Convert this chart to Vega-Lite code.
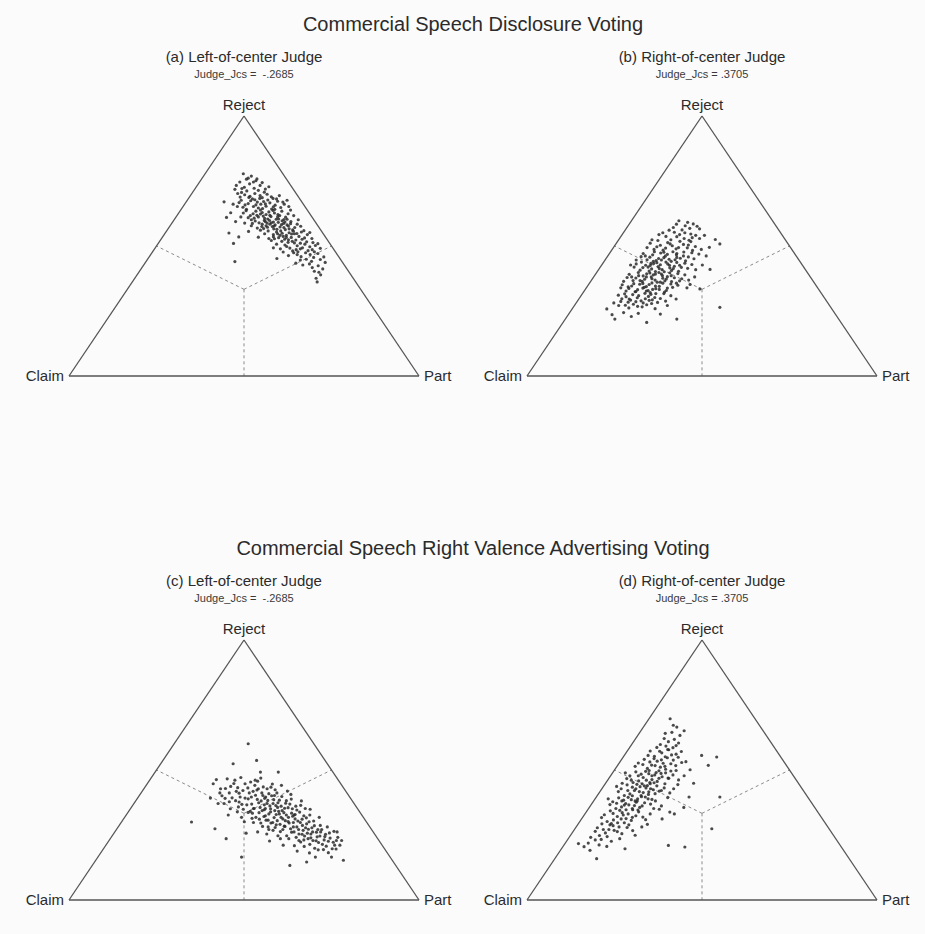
{
"$schema":"https://vega.github.io/schema/vega-lite/v6.json",
"background":"#fbfbfb",
"padding":{"left":23.5,"top":15,"right":2,"bottom":24},
"config":{"view":{"stroke":null},"font":"Liberation Sans","title":{"fontWeight":"normal","color":"#2b2b2b","subtitleColor":"#3a3a3a","subtitleFont":"Liberation Sans"}},
"datasets":{
"edges":[{"x":0,"y":0,"x2":1,"y2":0},{"x":0,"y":0,"x2":0.5,"y2":1},{"x":1,"y":0,"x2":0.5,"y2":1}],
"splits":[{"x":0.5,"y":0.3333,"x2":0.5,"y2":0},{"x":0.5,"y":0.3333,"x2":0.25,"y2":0.5},{"x":0.5,"y":0.3333,"x2":0.75,"y2":0.5}],
"labels":[{"v":"Reject","x":0.5,"y":1},{"v":"Claim","x":0,"y":0},{"v":"Part","x":1,"y":0}],
"a":[{"x":0.498,"y":0.778},{"x":0.521,"y":0.769},{"x":0.507,"y":0.757},{"x":0.534,"y":0.751},{"x":0.488,"y":0.746},{"x":0.516,"y":0.739},{"x":0.546,"y":0.733},{"x":0.501,"y":0.726},{"x":0.478,"y":0.733},{"x":0.529,"y":0.722},{"x":0.512,"y":0.761},
{"x":0.541,"y":0.714},{"x":0.493,"y":0.706},{"x":0.566,"y":0.699},{"x":0.517,"y":0.691},{"x":0.474,"y":0.718},{"x":0.552,"y":0.686},{"x":0.508,"y":0.712},{"x":0.583,"y":0.683},{"x":0.531,"y":0.702},{"x":0.489,"y":0.688},{"x":0.561,"y":0.719},{"x":0.524,"y":0.681},{"x":0.546,"y":0.694},{"x":0.502,"y":0.697},
{"x":0.556,"y":0.671},{"x":0.512,"y":0.663},{"x":0.589,"y":0.657},{"x":0.531,"y":0.678},{"x":0.497,"y":0.649},{"x":0.574,"y":0.666},{"x":0.541,"y":0.646},{"x":0.605,"y":0.648},{"x":0.519,"y":0.674},{"x":0.563,"y":0.653},{"x":0.486,"y":0.667},{"x":0.548,"y":0.661},{"x":0.596,"y":0.672},{"x":0.527,"y":0.652},{"x":0.579,"y":0.642},{"x":0.507,"y":0.641},{"x":0.538,"y":0.669},{"x":0.568,"y":0.677},{"x":0.553,"y":0.644},{"x":0.615,"y":0.661},{"x":0.492,"y":0.676},{"x":0.443,"y":0.67},{"x":0.584,"y":0.651},
{"x":0.571,"y":0.631},{"x":0.526,"y":0.624},{"x":0.602,"y":0.617},{"x":0.547,"y":0.638},{"x":0.512,"y":0.609},{"x":0.587,"y":0.627},{"x":0.559,"y":0.606},{"x":0.619,"y":0.611},{"x":0.534,"y":0.634},{"x":0.577,"y":0.613},{"x":0.498,"y":0.627},{"x":0.563,"y":0.621},{"x":0.608,"y":0.634},{"x":0.541,"y":0.612},{"x":0.592,"y":0.603},{"x":0.521,"y":0.601},{"x":0.552,"y":0.629},{"x":0.583,"y":0.637},{"x":0.568,"y":0.604},{"x":0.626,"y":0.624},{"x":0.506,"y":0.636},{"x":0.537,"y":0.618},{"x":0.597,"y":0.621},{"x":0.45,"y":0.61},{"x":0.462,"y":0.628},{"x":0.614,"y":0.602},{"x":0.555,"y":0.615},
{"x":0.598,"y":0.591},{"x":0.552,"y":0.584},{"x":0.627,"y":0.577},{"x":0.573,"y":0.598},{"x":0.538,"y":0.569},{"x":0.613,"y":0.587},{"x":0.585,"y":0.566},{"x":0.645,"y":0.571},{"x":0.561,"y":0.594},{"x":0.603,"y":0.573},{"x":0.524,"y":0.587},{"x":0.589,"y":0.581},{"x":0.634,"y":0.594},{"x":0.567,"y":0.572},{"x":0.618,"y":0.563},{"x":0.547,"y":0.561},{"x":0.578,"y":0.589},{"x":0.609,"y":0.597},{"x":0.594,"y":0.564},{"x":0.652,"y":0.584},{"x":0.532,"y":0.596},{"x":0.563,"y":0.578},{"x":0.623,"y":0.581},{"x":0.639,"y":0.562},{"x":0.581,"y":0.575},{"x":0.556,"y":0.567},{"x":0.607,"y":0.582},{"x":0.574,"y":0.584},
{"x":0.629,"y":0.551},{"x":0.584,"y":0.544},{"x":0.657,"y":0.537},{"x":0.605,"y":0.558},{"x":0.571,"y":0.529},{"x":0.644,"y":0.547},{"x":0.616,"y":0.526},{"x":0.673,"y":0.531},{"x":0.593,"y":0.554},{"x":0.635,"y":0.533},{"x":0.559,"y":0.547},{"x":0.621,"y":0.541},{"x":0.664,"y":0.554},{"x":0.599,"y":0.532},{"x":0.648,"y":0.523},{"x":0.578,"y":0.521},{"x":0.609,"y":0.549},{"x":0.641,"y":0.557},{"x":0.627,"y":0.524},{"x":0.681,"y":0.544},{"x":0.457,"y":0.55},{"x":0.485,"y":0.535},{"x":0.612,"y":0.537},{"x":0.587,"y":0.528},
{"x":0.661,"y":0.511},{"x":0.617,"y":0.504},{"x":0.688,"y":0.497},{"x":0.638,"y":0.518},{"x":0.604,"y":0.489},{"x":0.674,"y":0.507},{"x":0.649,"y":0.486},{"x":0.697,"y":0.513},{"x":0.626,"y":0.514},{"x":0.667,"y":0.493},{"x":0.593,"y":0.507},{"x":0.652,"y":0.501},{"x":0.683,"y":0.482},{"x":0.631,"y":0.492},{"x":0.47,"y":0.51},{"x":0.704,"y":0.502},
{"x":0.642,"y":0.474},{"x":0.689,"y":0.467},{"x":0.663,"y":0.459},{"x":0.711,"y":0.471},{"x":0.627,"y":0.463},{"x":0.678,"y":0.449},{"x":0.654,"y":0.478},{"x":0.699,"y":0.456},{"x":0.474,"y":0.44},{"x":0.594,"y":0.452},{"x":0.718,"y":0.448},
{"x":0.687,"y":0.431},{"x":0.712,"y":0.424},{"x":0.648,"y":0.434},{"x":0.725,"y":0.412},{"x":0.701,"y":0.403},{"x":0.719,"y":0.389},{"x":0.706,"y":0.376},{"x":0.709,"y":0.362},{"x":0.668,"y":0.427},
{"x":0.537,"y":0.758},{"x":0.552,"y":0.744},{"x":0.494,"y":0.721},{"x":0.571,"y":0.728},{"x":0.482,"y":0.702},{"x":0.558,"y":0.707},{"x":0.527,"y":0.746},
{"x":0.601,"y":0.694},{"x":0.623,"y":0.676},{"x":0.578,"y":0.689},{"x":0.469,"y":0.661},{"x":0.514,"y":0.687},{"x":0.593,"y":0.681},{"x":0.628,"y":0.652},{"x":0.545,"y":0.683},{"x":0.503,"y":0.658},{"x":0.561,"y":0.662},{"x":0.534,"y":0.658},{"x":0.611,"y":0.669},{"x":0.481,"y":0.652},
{"x":0.633,"y":0.638},{"x":0.642,"y":0.617},{"x":0.596,"y":0.612},{"x":0.518,"y":0.617},{"x":0.547,"y":0.623},{"x":0.574,"y":0.618},{"x":0.588,"y":0.641},{"x":0.529,"y":0.607},{"x":0.623,"y":0.603},{"x":0.491,"y":0.612},{"x":0.558,"y":0.598},{"x":0.584,"y":0.592},{"x":0.617,"y":0.592},{"x":0.543,"y":0.589},{"x":0.655,"y":0.601},{"x":0.502,"y":0.588},{"x":0.566,"y":0.588},{"x":0.599,"y":0.604},{"x":0.633,"y":0.586},{"x":0.521,"y":0.578},{"x":0.476,"y":0.594},
{"x":0.662,"y":0.576},{"x":0.671,"y":0.559},{"x":0.614,"y":0.571},{"x":0.586,"y":0.577},{"x":0.551,"y":0.575},{"x":0.629,"y":0.566},{"x":0.596,"y":0.547},{"x":0.651,"y":0.548},{"x":0.569,"y":0.558},{"x":0.688,"y":0.552},{"x":0.621,"y":0.533},{"x":0.541,"y":0.534},{"x":0.603,"y":0.541},{"x":0.666,"y":0.526},{"x":0.636,"y":0.546},{"x":0.513,"y":0.556},{"x":0.584,"y":0.536},{"x":0.694,"y":0.529},
{"x":0.608,"y":0.518},{"x":0.644,"y":0.512},{"x":0.679,"y":0.516},{"x":0.711,"y":0.509},{"x":0.622,"y":0.498},{"x":0.661,"y":0.489},{"x":0.695,"y":0.486},{"x":0.639,"y":0.481},{"x":0.676,"y":0.474},{"x":0.612,"y":0.477},{"x":0.718,"y":0.491},{"x":0.584,"y":0.493},{"x":0.652,"y":0.467},{"x":0.701,"y":0.478},
{"x":0.728,"y":0.458},{"x":0.732,"y":0.437},{"x":0.693,"y":0.441},{"x":0.661,"y":0.446},{"x":0.714,"y":0.399},{"x":0.695,"y":0.417}],
"b":[{"x":0.434,"y":0.597},{"x":0.475,"y":0.585},{"x":0.452,"y":0.578},{"x":0.418,"y":0.571},{"x":0.493,"y":0.566},{"x":0.443,"y":0.562},
{"x":0.421,"y":0.553},{"x":0.468,"y":0.546},{"x":0.397,"y":0.537},{"x":0.449,"y":0.529},{"x":0.482,"y":0.541},{"x":0.411,"y":0.524},{"x":0.436,"y":0.544},{"x":0.463,"y":0.522},{"x":0.507,"y":0.541},{"x":0.538,"y":0.525},{"x":0.388,"y":0.551},
{"x":0.402,"y":0.513},{"x":0.447,"y":0.506},{"x":0.371,"y":0.497},{"x":0.426,"y":0.489},{"x":0.468,"y":0.517},{"x":0.389,"y":0.484},{"x":0.458,"y":0.493},{"x":0.415,"y":0.501},{"x":0.352,"y":0.511},{"x":0.481,"y":0.498},{"x":0.437,"y":0.518},{"x":0.396,"y":0.492},{"x":0.551,"y":0.508},{"x":0.473,"y":0.483},{"x":0.363,"y":0.487},
{"x":0.382,"y":0.473},{"x":0.427,"y":0.466},{"x":0.351,"y":0.457},{"x":0.406,"y":0.449},{"x":0.448,"y":0.477},{"x":0.369,"y":0.444},{"x":0.438,"y":0.453},{"x":0.395,"y":0.461},{"x":0.332,"y":0.471},{"x":0.461,"y":0.458},{"x":0.417,"y":0.478},{"x":0.376,"y":0.452},{"x":0.491,"y":0.469},{"x":0.453,"y":0.443},{"x":0.343,"y":0.447},{"x":0.412,"y":0.441},{"x":0.471,"y":0.474},{"x":0.359,"y":0.466},{"x":0.428,"y":0.456},{"x":0.512,"y":0.462},{"x":0.391,"y":0.476},{"x":0.326,"y":0.459},
{"x":0.362,"y":0.433},{"x":0.407,"y":0.426},{"x":0.331,"y":0.417},{"x":0.386,"y":0.409},{"x":0.428,"y":0.437},{"x":0.349,"y":0.404},{"x":0.418,"y":0.413},{"x":0.375,"y":0.421},{"x":0.312,"y":0.431},{"x":0.441,"y":0.418},{"x":0.397,"y":0.438},{"x":0.356,"y":0.412},{"x":0.471,"y":0.429},{"x":0.433,"y":0.403},{"x":0.323,"y":0.407},{"x":0.392,"y":0.401},{"x":0.451,"y":0.434},{"x":0.339,"y":0.426},{"x":0.408,"y":0.416},{"x":0.482,"y":0.409},{"x":0.371,"y":0.436},{"x":0.306,"y":0.419},{"x":0.523,"y":0.41},{"x":0.381,"y":0.428},{"x":0.421,"y":0.422},{"x":0.352,"y":0.425},
{"x":0.342,"y":0.393},{"x":0.387,"y":0.386},{"x":0.311,"y":0.377},{"x":0.366,"y":0.369},{"x":0.408,"y":0.397},{"x":0.329,"y":0.364},{"x":0.398,"y":0.373},{"x":0.355,"y":0.381},{"x":0.292,"y":0.391},{"x":0.421,"y":0.378},{"x":0.377,"y":0.398},{"x":0.336,"y":0.372},{"x":0.451,"y":0.389},{"x":0.413,"y":0.363},{"x":0.303,"y":0.367},{"x":0.372,"y":0.361},{"x":0.431,"y":0.394},{"x":0.319,"y":0.386},{"x":0.388,"y":0.376},{"x":0.462,"y":0.369},{"x":0.351,"y":0.396},{"x":0.286,"y":0.379},{"x":0.361,"y":0.389},{"x":0.401,"y":0.382},{"x":0.332,"y":0.385},{"x":0.442,"y":0.374},
{"x":0.322,"y":0.353},{"x":0.367,"y":0.346},{"x":0.291,"y":0.337},{"x":0.346,"y":0.329},{"x":0.388,"y":0.357},{"x":0.309,"y":0.324},{"x":0.378,"y":0.333},{"x":0.335,"y":0.341},{"x":0.272,"y":0.351},{"x":0.401,"y":0.338},{"x":0.357,"y":0.358},{"x":0.316,"y":0.332},{"x":0.431,"y":0.349},{"x":0.393,"y":0.323},{"x":0.283,"y":0.327},{"x":0.352,"y":0.321},{"x":0.411,"y":0.354},{"x":0.299,"y":0.346},{"x":0.368,"y":0.336},{"x":0.494,"y":0.335},{"x":0.331,"y":0.356},{"x":0.268,"y":0.339},{"x":0.466,"y":0.352},{"x":0.341,"y":0.344},
{"x":0.302,"y":0.313},{"x":0.347,"y":0.306},{"x":0.271,"y":0.297},{"x":0.326,"y":0.289},{"x":0.368,"y":0.317},{"x":0.289,"y":0.284},{"x":0.358,"y":0.293},{"x":0.315,"y":0.301},{"x":0.261,"y":0.311},{"x":0.381,"y":0.298},{"x":0.337,"y":0.318},{"x":0.296,"y":0.292},{"x":0.411,"y":0.309},{"x":0.373,"y":0.283},{"x":0.283,"y":0.305},{"x":0.332,"y":0.281},
{"x":0.228,"y":0.258},{"x":0.251,"y":0.219},{"x":0.262,"y":0.271},{"x":0.291,"y":0.262},{"x":0.316,"y":0.268},{"x":0.342,"y":0.274},{"x":0.366,"y":0.259},{"x":0.276,"y":0.244},{"x":0.318,"y":0.241},{"x":0.342,"y":0.206},{"x":0.428,"y":0.219},{"x":0.298,"y":0.229},{"x":0.551,"y":0.264},{"x":0.381,"y":0.238},{"x":0.243,"y":0.236},{"x":0.401,"y":0.271},
{"x":0.459,"y":0.591},{"x":0.427,"y":0.584},{"x":0.486,"y":0.576},{"x":0.406,"y":0.561},{"x":0.465,"y":0.568},
{"x":0.377,"y":0.544},{"x":0.451,"y":0.551},{"x":0.493,"y":0.529},{"x":0.374,"y":0.521},{"x":0.428,"y":0.536},{"x":0.409,"y":0.508},{"x":0.461,"y":0.504},{"x":0.381,"y":0.503},{"x":0.343,"y":0.494},{"x":0.498,"y":0.487},{"x":0.433,"y":0.494},{"x":0.472,"y":0.532},{"x":0.521,"y":0.495},{"x":0.357,"y":0.524},
{"x":0.338,"y":0.462},{"x":0.364,"y":0.478},{"x":0.401,"y":0.468},{"x":0.423,"y":0.447},{"x":0.447,"y":0.462},{"x":0.384,"y":0.446},{"x":0.312,"y":0.446},{"x":0.477,"y":0.451},{"x":0.361,"y":0.441},{"x":0.402,"y":0.431},{"x":0.436,"y":0.426},{"x":0.327,"y":0.438},{"x":0.459,"y":0.414},{"x":0.378,"y":0.413},{"x":0.346,"y":0.419},{"x":0.413,"y":0.406},{"x":0.501,"y":0.427},{"x":0.296,"y":0.427},{"x":0.367,"y":0.402},{"x":0.428,"y":0.471},{"x":0.391,"y":0.455},{"x":0.354,"y":0.433},
{"x":0.318,"y":0.398},{"x":0.357,"y":0.374},{"x":0.384,"y":0.392},{"x":0.412,"y":0.386},{"x":0.436,"y":0.366},{"x":0.299,"y":0.381},{"x":0.341,"y":0.381},{"x":0.367,"y":0.392},{"x":0.394,"y":0.366},{"x":0.323,"y":0.367},{"x":0.276,"y":0.364},{"x":0.427,"y":0.357},{"x":0.349,"y":0.352},{"x":0.378,"y":0.345},{"x":0.305,"y":0.355},{"x":0.416,"y":0.341},{"x":0.331,"y":0.338},{"x":0.359,"y":0.333},{"x":0.289,"y":0.343},{"x":0.398,"y":0.329},{"x":0.457,"y":0.339},{"x":0.311,"y":0.325},{"x":0.341,"y":0.327},{"x":0.381,"y":0.361},{"x":0.479,"y":0.381},
{"x":0.279,"y":0.316},{"x":0.319,"y":0.309},{"x":0.354,"y":0.314},{"x":0.391,"y":0.317},{"x":0.292,"y":0.296},{"x":0.338,"y":0.297},{"x":0.365,"y":0.302},{"x":0.268,"y":0.287},{"x":0.311,"y":0.286},{"x":0.349,"y":0.291},{"x":0.396,"y":0.288},{"x":0.281,"y":0.272},{"x":0.329,"y":0.266},{"x":0.356,"y":0.279},{"x":0.248,"y":0.281},{"x":0.426,"y":0.296},{"x":0.304,"y":0.276}],
"c":[{"x":0.412,"y":0.447},{"x":0.437,"y":0.401},{"x":0.421,"y":0.463},{"x":0.404,"y":0.392},{"x":0.433,"y":0.428},{"x":0.426,"y":0.371},{"x":0.35,"y":0.3},{"x":0.417,"y":0.274},
{"x":0.458,"y":0.412},{"x":0.443,"y":0.371},{"x":0.471,"y":0.448},{"x":0.452,"y":0.466},{"x":0.476,"y":0.382},{"x":0.461,"y":0.351},{"x":0.447,"y":0.429},{"x":0.469,"y":0.524},{"x":0.478,"y":0.418},{"x":0.449,"y":0.236},{"x":0.466,"y":0.393},{"x":0.455,"y":0.327},
{"x":0.497,"y":0.421},{"x":0.484,"y":0.358},{"x":0.512,"y":0.389},{"x":0.503,"y":0.447},{"x":0.489,"y":0.396},{"x":0.518,"y":0.341},{"x":0.493,"y":0.318},{"x":0.508,"y":0.366},{"x":0.482,"y":0.432},{"x":0.515,"y":0.412},{"x":0.501,"y":0.301},{"x":0.491,"y":0.471},{"x":0.512,"y":0.601},{"x":0.493,"y":0.165},{"x":0.506,"y":0.257},{"x":0.486,"y":0.377},{"x":0.519,"y":0.454},{"x":0.498,"y":0.349},
{"x":0.538,"y":0.387},{"x":0.524,"y":0.334},{"x":0.551,"y":0.412},{"x":0.531,"y":0.441},{"x":0.546,"y":0.356},{"x":0.527,"y":0.298},{"x":0.557,"y":0.321},{"x":0.542,"y":0.374},{"x":0.533,"y":0.403},{"x":0.553,"y":0.283},{"x":0.522,"y":0.369},{"x":0.548,"y":0.469},{"x":0.536,"y":0.537},{"x":0.559,"y":0.391},{"x":0.529,"y":0.352},{"x":0.544,"y":0.311},{"x":0.555,"y":0.435},{"x":0.539,"y":0.262},{"x":0.526,"y":0.418},{"x":0.552,"y":0.344},{"x":0.541,"y":0.428},{"x":0.558,"y":0.366},{"x":0.534,"y":0.318},{"x":0.547,"y":0.492},
{"x":0.574,"y":0.362},{"x":0.563,"y":0.307},{"x":0.588,"y":0.344},{"x":0.579,"y":0.401},{"x":0.566,"y":0.428},{"x":0.592,"y":0.289},{"x":0.571,"y":0.331},{"x":0.597,"y":0.374},{"x":0.583,"y":0.268},{"x":0.561,"y":0.352},{"x":0.594,"y":0.412},{"x":0.577,"y":0.296},{"x":0.568,"y":0.383},{"x":0.586,"y":0.317},{"x":0.599,"y":0.341},{"x":0.565,"y":0.254},{"x":0.581,"y":0.446},{"x":0.598,"y":0.492},{"x":0.573,"y":0.227},{"x":0.591,"y":0.363},{"x":0.562,"y":0.396},{"x":0.585,"y":0.386},{"x":0.576,"y":0.339},{"x":0.595,"y":0.305},{"x":0.569,"y":0.281},{"x":0.589,"y":0.424},
{"x":0.614,"y":0.336},{"x":0.603,"y":0.291},{"x":0.627,"y":0.318},{"x":0.619,"y":0.372},{"x":0.608,"y":0.398},{"x":0.633,"y":0.274},{"x":0.611,"y":0.312},{"x":0.638,"y":0.351},{"x":0.622,"y":0.247},{"x":0.601,"y":0.331},{"x":0.635,"y":0.388},{"x":0.617,"y":0.283},{"x":0.606,"y":0.361},{"x":0.629,"y":0.296},{"x":0.639,"y":0.322},{"x":0.604,"y":0.236},{"x":0.624,"y":0.419},{"x":0.631,"y":0.133},{"x":0.612,"y":0.211},{"x":0.636,"y":0.261},{"x":0.609,"y":0.344},{"x":0.626,"y":0.355},{"x":0.618,"y":0.305},
{"x":0.654,"y":0.304},{"x":0.643,"y":0.262},{"x":0.667,"y":0.287},{"x":0.659,"y":0.338},{"x":0.648,"y":0.361},{"x":0.673,"y":0.246},{"x":0.651,"y":0.281},{"x":0.678,"y":0.316},{"x":0.662,"y":0.223},{"x":0.641,"y":0.298},{"x":0.675,"y":0.352},{"x":0.657,"y":0.254},{"x":0.646,"y":0.329},{"x":0.669,"y":0.268},{"x":0.679,"y":0.293},{"x":0.644,"y":0.209},{"x":0.664,"y":0.381},{"x":0.679,"y":0.146},{"x":0.652,"y":0.188},{"x":0.671,"y":0.231},{"x":0.649,"y":0.241},{"x":0.666,"y":0.311},
{"x":0.694,"y":0.278},{"x":0.683,"y":0.236},{"x":0.707,"y":0.261},{"x":0.699,"y":0.304},{"x":0.688,"y":0.327},{"x":0.713,"y":0.221},{"x":0.691,"y":0.254},{"x":0.718,"y":0.287},{"x":0.702,"y":0.199},{"x":0.684,"y":0.272},{"x":0.715,"y":0.318},{"x":0.697,"y":0.229},{"x":0.709,"y":0.243},{"x":0.687,"y":0.181},{"x":0.704,"y":0.165},{"x":0.719,"y":0.262},
{"x":0.733,"y":0.253},{"x":0.724,"y":0.214},{"x":0.746,"y":0.238},{"x":0.738,"y":0.281},{"x":0.752,"y":0.197},{"x":0.729,"y":0.231},{"x":0.757,"y":0.264},{"x":0.741,"y":0.182},{"x":0.75,"y":0.165},{"x":0.735,"y":0.207},{"x":0.755,"y":0.222},
{"x":0.768,"y":0.241},{"x":0.779,"y":0.229},{"x":0.784,"y":0.153},{"x":0.763,"y":0.196},{"x":0.774,"y":0.211},{"x":0.766,"y":0.262},
{"x":0.431,"y":0.412},{"x":0.446,"y":0.391},{"x":0.462,"y":0.437},{"x":0.474,"y":0.461},{"x":0.486,"y":0.411},{"x":0.494,"y":0.368},{"x":0.503,"y":0.392},{"x":0.511,"y":0.431},{"x":0.521,"y":0.396},{"x":0.527,"y":0.352},{"x":0.532,"y":0.461},{"x":0.537,"y":0.423},{"x":0.543,"y":0.336},{"x":0.549,"y":0.381},{"x":0.554,"y":0.402},{"x":0.561,"y":0.324},{"x":0.566,"y":0.371},{"x":0.571,"y":0.409},{"x":0.576,"y":0.351},{"x":0.582,"y":0.298},{"x":0.587,"y":0.402},{"x":0.592,"y":0.329},{"x":0.596,"y":0.356},{"x":0.601,"y":0.384},{"x":0.606,"y":0.318},{"x":0.611,"y":0.271},{"x":0.616,"y":0.353},{"x":0.621,"y":0.327},{"x":0.626,"y":0.302},{"x":0.631,"y":0.369},{"x":0.636,"y":0.334},{"x":0.641,"y":0.281},{"x":0.646,"y":0.312},{"x":0.651,"y":0.346},{"x":0.656,"y":0.271},{"x":0.661,"y":0.298},{"x":0.666,"y":0.253},{"x":0.671,"y":0.324},{"x":0.676,"y":0.278},{"x":0.681,"y":0.257},{"x":0.686,"y":0.301},{"x":0.691,"y":0.239},{"x":0.696,"y":0.262},{"x":0.701,"y":0.286},{"x":0.706,"y":0.228},{"x":0.711,"y":0.271},{"x":0.717,"y":0.246},{"x":0.722,"y":0.271},{"x":0.727,"y":0.194},{"x":0.731,"y":0.244},{"x":0.741,"y":0.226},{"x":0.744,"y":0.258},{"x":0.759,"y":0.211},{"x":0.764,"y":0.229},{"x":0.548,"y":0.296},{"x":0.569,"y":0.307},{"x":0.589,"y":0.279},{"x":0.604,"y":0.263},{"x":0.628,"y":0.236},{"x":0.657,"y":0.229},{"x":0.688,"y":0.214},{"x":0.523,"y":0.314},{"x":0.512,"y":0.337},{"x":0.539,"y":0.457},{"x":0.577,"y":0.434},{"x":0.607,"y":0.441},{"x":0.634,"y":0.406},{"x":0.662,"y":0.364},{"x":0.689,"y":0.349},{"x":0.481,"y":0.339},{"x":0.458,"y":0.378},{"x":0.571,"y":0.271},{"x":0.597,"y":0.247},{"x":0.615,"y":0.284},{"x":0.643,"y":0.327},{"x":0.583,"y":0.371},{"x":0.558,"y":0.347},{"x":0.621,"y":0.382},{"x":0.672,"y":0.206},{"x":0.712,"y":0.193}],
"d":[{"x":0.409,"y":0.697},{"x":0.428,"y":0.665},{"x":0.437,"y":0.633},{"x":0.418,"y":0.672},{"x":0.395,"y":0.641},{"x":0.421,"y":0.618},{"x":0.449,"y":0.651},{"x":0.404,"y":0.609},{"x":0.433,"y":0.604},
{"x":0.371,"y":0.587},{"x":0.402,"y":0.579},{"x":0.426,"y":0.594},{"x":0.385,"y":0.566},{"x":0.352,"y":0.573},{"x":0.413,"y":0.558},{"x":0.441,"y":0.571},{"x":0.364,"y":0.553},{"x":0.397,"y":0.592},{"x":0.499,"y":0.556},{"x":0.542,"y":0.55},
{"x":0.335,"y":0.541},{"x":0.372,"y":0.534},{"x":0.401,"y":0.547},{"x":0.318,"y":0.527},{"x":0.356,"y":0.519},{"x":0.389,"y":0.526},{"x":0.418,"y":0.538},{"x":0.344,"y":0.506},{"x":0.381,"y":0.511},{"x":0.309,"y":0.514},{"x":0.425,"y":0.517},{"x":0.363,"y":0.544},{"x":0.396,"y":0.503},{"x":0.518,"y":0.518},{"x":0.442,"y":0.529},{"x":0.351,"y":0.531},
{"x":0.311,"y":0.493},{"x":0.348,"y":0.486},{"x":0.377,"y":0.497},{"x":0.294,"y":0.478},{"x":0.332,"y":0.471},{"x":0.365,"y":0.481},{"x":0.396,"y":0.489},{"x":0.319,"y":0.458},{"x":0.357,"y":0.463},{"x":0.285,"y":0.467},{"x":0.403,"y":0.469},{"x":0.339,"y":0.495},{"x":0.372,"y":0.456},{"x":0.417,"y":0.481},{"x":0.303,"y":0.452},{"x":0.386,"y":0.474},{"x":0.326,"y":0.484},{"x":0.351,"y":0.452},{"x":0.433,"y":0.462},{"x":0.281,"y":0.489},{"x":0.369,"y":0.49},
{"x":0.286,"y":0.443},{"x":0.323,"y":0.436},{"x":0.352,"y":0.447},{"x":0.269,"y":0.428},{"x":0.307,"y":0.421},{"x":0.34,"y":0.431},{"x":0.371,"y":0.439},{"x":0.294,"y":0.408},{"x":0.332,"y":0.413},{"x":0.261,"y":0.417},{"x":0.378,"y":0.419},{"x":0.314,"y":0.445},{"x":0.347,"y":0.406},{"x":0.392,"y":0.431},{"x":0.278,"y":0.402},{"x":0.361,"y":0.424},{"x":0.301,"y":0.434},{"x":0.326,"y":0.402},{"x":0.408,"y":0.412},{"x":0.256,"y":0.437},{"x":0.344,"y":0.44},{"x":0.551,"y":0.396},{"x":0.419,"y":0.428},
{"x":0.262,"y":0.393},{"x":0.298,"y":0.386},{"x":0.327,"y":0.397},{"x":0.245,"y":0.378},{"x":0.282,"y":0.371},{"x":0.315,"y":0.381},{"x":0.346,"y":0.389},{"x":0.27,"y":0.358},{"x":0.307,"y":0.363},{"x":0.237,"y":0.367},{"x":0.353,"y":0.369},{"x":0.289,"y":0.395},{"x":0.322,"y":0.356},{"x":0.367,"y":0.381},{"x":0.254,"y":0.352},{"x":0.336,"y":0.374},{"x":0.276,"y":0.384},{"x":0.301,"y":0.352},{"x":0.384,"y":0.362},{"x":0.232,"y":0.389},{"x":0.312,"y":0.376},
{"x":0.238,"y":0.343},{"x":0.272,"y":0.336},{"x":0.302,"y":0.347},{"x":0.221,"y":0.328},{"x":0.258,"y":0.321},{"x":0.289,"y":0.331},{"x":0.319,"y":0.339},{"x":0.247,"y":0.308},{"x":0.283,"y":0.313},{"x":0.213,"y":0.317},{"x":0.331,"y":0.319},{"x":0.265,"y":0.345},{"x":0.298,"y":0.306},{"x":0.352,"y":0.331},{"x":0.229,"y":0.302},{"x":0.311,"y":0.324},{"x":0.408,"y":0.338},{"x":0.275,"y":0.327},
{"x":0.214,"y":0.293},{"x":0.246,"y":0.286},{"x":0.278,"y":0.297},{"x":0.201,"y":0.278},{"x":0.234,"y":0.271},{"x":0.263,"y":0.281},{"x":0.291,"y":0.289},{"x":0.224,"y":0.258},{"x":0.258,"y":0.263},{"x":0.302,"y":0.267},{"x":0.241,"y":0.294},{"x":0.328,"y":0.281},{"x":0.309,"y":0.249},{"x":0.528,"y":0.274},{"x":0.271,"y":0.255},{"x":0.195,"y":0.264},
{"x":0.182,"y":0.241},{"x":0.212,"y":0.233},{"x":0.241,"y":0.226},{"x":0.175,"y":0.219},{"x":0.147,"y":0.217},{"x":0.199,"y":0.159},{"x":0.18,"y":0.191},{"x":0.228,"y":0.206},{"x":0.28,"y":0.197},{"x":0.404,"y":0.21},{"x":0.451,"y":0.204},{"x":0.265,"y":0.236},{"x":0.206,"y":0.212},{"x":0.163,"y":0.205},
{"x":0.392,"y":0.621},{"x":0.414,"y":0.645},{"x":0.381,"y":0.598},{"x":0.417,"y":0.586},{"x":0.379,"y":0.572},{"x":0.395,"y":0.551},{"x":0.426,"y":0.561},{"x":0.346,"y":0.556},{"x":0.384,"y":0.539},{"x":0.411,"y":0.524},{"x":0.366,"y":0.517},{"x":0.331,"y":0.521},{"x":0.394,"y":0.514},{"x":0.349,"y":0.498},{"x":0.383,"y":0.487},{"x":0.318,"y":0.478},{"x":0.357,"y":0.478},{"x":0.411,"y":0.496},{"x":0.341,"y":0.461},{"x":0.377,"y":0.468},{"x":0.298,"y":0.461},{"x":0.329,"y":0.447},{"x":0.363,"y":0.451},{"x":0.394,"y":0.447},{"x":0.272,"y":0.449},{"x":0.311,"y":0.428},{"x":0.353,"y":0.428},{"x":0.384,"y":0.421},{"x":0.288,"y":0.421},{"x":0.321,"y":0.417},{"x":0.366,"y":0.409},{"x":0.338,"y":0.396},{"x":0.301,"y":0.401},{"x":0.271,"y":0.381},{"x":0.357,"y":0.387},{"x":0.316,"y":0.389},{"x":0.291,"y":0.366},{"x":0.329,"y":0.362},{"x":0.362,"y":0.352},{"x":0.256,"y":0.372},{"x":0.283,"y":0.347},{"x":0.317,"y":0.346},{"x":0.246,"y":0.333},{"x":0.269,"y":0.312},{"x":0.301,"y":0.318},{"x":0.339,"y":0.309},{"x":0.237,"y":0.289},{"x":0.259,"y":0.297},{"x":0.286,"y":0.279},{"x":0.218,"y":0.271},{"x":0.249,"y":0.268},{"x":0.207,"y":0.248},{"x":0.229,"y":0.244},{"x":0.195,"y":0.231},{"x":0.405,"y":0.578},{"x":0.432,"y":0.549},{"x":0.454,"y":0.532},{"x":0.466,"y":0.501},{"x":0.449,"y":0.478},{"x":0.431,"y":0.444},{"x":0.402,"y":0.394},{"x":0.378,"y":0.349},{"x":0.344,"y":0.291},{"x":0.476,"y":0.449},{"x":0.463,"y":0.396},{"x":0.448,"y":0.356},{"x":0.421,"y":0.331},{"x":0.386,"y":0.312},{"x":0.426,"y":0.498},{"x":0.405,"y":0.468},{"x":0.348,"y":0.416},{"x":0.278,"y":0.365},{"x":0.309,"y":0.381},{"x":0.335,"y":0.439}]
},
"spacing":150,
"vconcat":[
{"title":{"text":"Commercial Speech Disclosure Voting","fontSize":20,"anchor":"middle","offset":15},
 "spacing":17,
 "hconcat":[
  {"width":441,"height":299,
   "title":{"text":"(a) Left-of-center Judge","subtitle":"Judge_Jcs = \u00a0-.2685","fontSize":15,"subtitleFontSize":11,"subtitlePadding":4,"offset":10},
   "encoding":{"x":{"field":"x","type":"quantitative","scale":{"domain":[-0.13,1.13],"nice":false,"zero":false},"axis":null},"y":{"field":"y","type":"quantitative","scale":{"domain":[-0.05,1.1],"nice":false,"zero":false},"axis":null}},
   "layer":[
    {"data":{"name":"splits"},"mark":{"type":"rule","stroke":"#8a8a8a","strokeWidth":1,"strokeDash":[3,3]},"encoding":{"x2":{"field":"x2"},"y2":{"field":"y2"}}},
    {"data":{"name":"edges"},"mark":{"type":"rule","stroke":"#555555","strokeWidth":1.3},"encoding":{"x2":{"field":"x2"},"y2":{"field":"y2"}}},
    {"data":{"name":"a"},"mark":{"type":"circle","size":10,"color":"#2a2a2a","opacity":0.85}},
    {"data":{"name":"labels"},"transform":[{"filter":"datum.v == 'Reject'"}],"mark":{"type":"text","fontSize":15,"baseline":"bottom","dy":-3,"color":"#2b2b2b"},"encoding":{"text":{"field":"v"}}},
    {"data":{"name":"labels"},"transform":[{"filter":"datum.v == 'Claim'"}],"mark":{"type":"text","fontSize":15,"align":"right","baseline":"middle","dx":-5,"color":"#2b2b2b"},"encoding":{"text":{"field":"v"}}},
    {"data":{"name":"labels"},"transform":[{"filter":"datum.v == 'Part'"}],"mark":{"type":"text","fontSize":15,"align":"left","baseline":"middle","dx":5,"color":"#2b2b2b"},"encoding":{"text":{"field":"v"}}}
   ]},
  {"width":441,"height":299,
   "title":{"text":"(b) Right-of-center Judge","subtitle":"Judge_Jcs = .3705","fontSize":15,"subtitleFontSize":11,"subtitlePadding":4,"offset":10},
   "encoding":{"x":{"field":"x","type":"quantitative","scale":{"domain":[-0.13,1.13],"nice":false,"zero":false},"axis":null},"y":{"field":"y","type":"quantitative","scale":{"domain":[-0.05,1.1],"nice":false,"zero":false},"axis":null}},
   "layer":[
    {"data":{"name":"splits"},"mark":{"type":"rule","stroke":"#8a8a8a","strokeWidth":1,"strokeDash":[3,3]},"encoding":{"x2":{"field":"x2"},"y2":{"field":"y2"}}},
    {"data":{"name":"edges"},"mark":{"type":"rule","stroke":"#555555","strokeWidth":1.3},"encoding":{"x2":{"field":"x2"},"y2":{"field":"y2"}}},
    {"data":{"name":"b"},"mark":{"type":"circle","size":10,"color":"#2a2a2a","opacity":0.85}},
    {"data":{"name":"labels"},"transform":[{"filter":"datum.v == 'Reject'"}],"mark":{"type":"text","fontSize":15,"baseline":"bottom","dy":-3,"color":"#2b2b2b"},"encoding":{"text":{"field":"v"}}},
    {"data":{"name":"labels"},"transform":[{"filter":"datum.v == 'Claim'"}],"mark":{"type":"text","fontSize":15,"align":"right","baseline":"middle","dx":-5,"color":"#2b2b2b"},"encoding":{"text":{"field":"v"}}},
    {"data":{"name":"labels"},"transform":[{"filter":"datum.v == 'Part'"}],"mark":{"type":"text","fontSize":15,"align":"left","baseline":"middle","dx":5,"color":"#2b2b2b"},"encoding":{"text":{"field":"v"}}}
   ]}
 ]},
{"title":{"text":"Commercial Speech Right Valence Advertising Voting","fontSize":20,"anchor":"middle","offset":15},
 "spacing":17,
 "hconcat":[
  {"width":441,"height":299,
   "title":{"text":"(c) Left-of-center Judge","subtitle":"Judge_Jcs = \u00a0-.2685","fontSize":15,"subtitleFontSize":11,"subtitlePadding":4,"offset":10},
   "encoding":{"x":{"field":"x","type":"quantitative","scale":{"domain":[-0.13,1.13],"nice":false,"zero":false},"axis":null},"y":{"field":"y","type":"quantitative","scale":{"domain":[-0.05,1.1],"nice":false,"zero":false},"axis":null}},
   "layer":[
    {"data":{"name":"splits"},"mark":{"type":"rule","stroke":"#8a8a8a","strokeWidth":1,"strokeDash":[3,3]},"encoding":{"x2":{"field":"x2"},"y2":{"field":"y2"}}},
    {"data":{"name":"edges"},"mark":{"type":"rule","stroke":"#555555","strokeWidth":1.3},"encoding":{"x2":{"field":"x2"},"y2":{"field":"y2"}}},
    {"data":{"name":"c"},"mark":{"type":"circle","size":10,"color":"#2a2a2a","opacity":0.85}},
    {"data":{"name":"labels"},"transform":[{"filter":"datum.v == 'Reject'"}],"mark":{"type":"text","fontSize":15,"baseline":"bottom","dy":-3,"color":"#2b2b2b"},"encoding":{"text":{"field":"v"}}},
    {"data":{"name":"labels"},"transform":[{"filter":"datum.v == 'Claim'"}],"mark":{"type":"text","fontSize":15,"align":"right","baseline":"middle","dx":-5,"color":"#2b2b2b"},"encoding":{"text":{"field":"v"}}},
    {"data":{"name":"labels"},"transform":[{"filter":"datum.v == 'Part'"}],"mark":{"type":"text","fontSize":15,"align":"left","baseline":"middle","dx":5,"color":"#2b2b2b"},"encoding":{"text":{"field":"v"}}}
   ]},
  {"width":441,"height":299,
   "title":{"text":"(d) Right-of-center Judge","subtitle":"Judge_Jcs = .3705","fontSize":15,"subtitleFontSize":11,"subtitlePadding":4,"offset":10},
   "encoding":{"x":{"field":"x","type":"quantitative","scale":{"domain":[-0.13,1.13],"nice":false,"zero":false},"axis":null},"y":{"field":"y","type":"quantitative","scale":{"domain":[-0.05,1.1],"nice":false,"zero":false},"axis":null}},
   "layer":[
    {"data":{"name":"splits"},"mark":{"type":"rule","stroke":"#8a8a8a","strokeWidth":1,"strokeDash":[3,3]},"encoding":{"x2":{"field":"x2"},"y2":{"field":"y2"}}},
    {"data":{"name":"edges"},"mark":{"type":"rule","stroke":"#555555","strokeWidth":1.3},"encoding":{"x2":{"field":"x2"},"y2":{"field":"y2"}}},
    {"data":{"name":"d"},"mark":{"type":"circle","size":10,"color":"#2a2a2a","opacity":0.85}},
    {"data":{"name":"labels"},"transform":[{"filter":"datum.v == 'Reject'"}],"mark":{"type":"text","fontSize":15,"baseline":"bottom","dy":-3,"color":"#2b2b2b"},"encoding":{"text":{"field":"v"}}},
    {"data":{"name":"labels"},"transform":[{"filter":"datum.v == 'Claim'"}],"mark":{"type":"text","fontSize":15,"align":"right","baseline":"middle","dx":-5,"color":"#2b2b2b"},"encoding":{"text":{"field":"v"}}},
    {"data":{"name":"labels"},"transform":[{"filter":"datum.v == 'Part'"}],"mark":{"type":"text","fontSize":15,"align":"left","baseline":"middle","dx":5,"color":"#2b2b2b"},"encoding":{"text":{"field":"v"}}}
   ]}
 ]}
]
}
